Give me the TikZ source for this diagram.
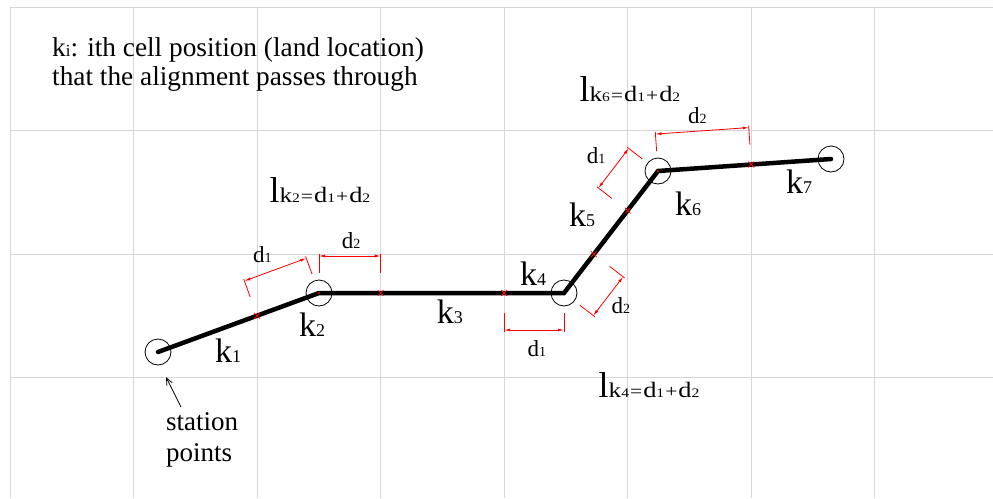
\documentclass[tikz,border=0pt]{standalone}
\usepackage{fontspec}
\setmainfont{Liberation Serif}
\newfontfamily\widefont[FakeStretch=1.2]{Liberation Serif}
\usetikzlibrary{calc,arrows.meta,shapes.misc}

\newcommand\fsz[1]{\fontsize{#1}{#1}\selectfont}
\newcommand\klab[1]{{\fsz{34}k}{\fsz{18}#1}}
\newcommand\dlab[1]{{\fsz{23}d}{\fsz{14}#1}}
\newcommand\lklab[1]{{\fsz{36}l}{\widefont{\fsz{21}k}{\fsz{13}#1}\kern1pt{\fsz{18}=}\kern1pt{\fsz{22}d}{\fsz{13}1}\kern1pt{\fsz{18}+}\kern1pt{\fsz{22}d}{\fsz{13}2}}}

\tikzset{
  gridline/.style={line width=1pt, draw={rgb,255:red,214;green,214;blue,214}},
  station/.style={circle, draw=black, line width=0.8pt, minimum size=26pt, inner sep=0pt},
  xmark/.style={cross out, draw=red, line width=0.8pt, minimum size=5pt, inner sep=0pt},
  dimred/.style={draw=red, line width=0.8pt},
  dimarrow/.style={dimred, {Latex[length=6pt,width=3pt]}-{Latex[length=6pt,width=3pt]}},
  txt/.style={inner sep=0pt, anchor=base west},
  alignline/.style={line width=4.5pt, draw=black, line cap=round}
}

\newcommand\dimpair[4]{%
  \draw[dimred] ($(#1)+20*(#3,#4)$) -- ($(#1)+39*(#3,#4)$);
  \draw[dimred] ($(#2)+20*(#3,#4)$) -- ($(#2)+39*(#3,#4)$);
  \draw[dimarrow] ($(#1)+37*(#3,#4)$) -- ($(#2)+37*(#3,#4)$);
}

\begin{document}
\begin{tikzpicture}[x=1pt, y=-1pt]
\fill[white] (0,0) rectangle (993,498);
\useasboundingbox (0,0) rectangle (993,498);

% grid
\foreach \gx in {10,133.55,257.1,380.65,504.2,627.75,751.3,874.85}
  \draw[gridline] (\gx,7) -- (\gx,498);
\foreach \gy in {7,130.6,254.2,377.8}
  \draw[gridline] (10,\gy) -- (993,\gy);

% vertices
\node[station] (k1) at (158,352) {};
\node[station] (k2) at (319,293) {};
\node[station] (k4) at (564,293) {};
\node[station] (k6) at (658,171) {};
\node[station] (k7) at (831,159) {};

% alignment
\draw[alignline] (k1.center) -- (k2.center) -- (k4.center) -- (k6.center) -- (k7.center);

% crossing marks
\node[xmark] (c12) at (257.1,315.7) {};
\node[xmark] (c23) at (380.65,293) {};
\node[xmark] (c34) at (504.2,293) {};
\node[xmark] (c45) at (593.8,254.2) {};
\node[xmark] (c56) at (627.75,210.6) {};
\node[xmark] (c67) at (751.3,164.5) {};
\fill[red] (k2.center) circle (1.2);
\fill[red] (k6.center) circle (1.2);

% dimensions
\dimpair{c12}{k2.center}{-0.3441}{-0.9389}
\dimpair{k2.center}{c23}{0}{-1}
\dimpair{c34}{k4.center}{0}{1}
\dimpair{k4.center}{c45}{0.7922}{0.6104}
\dimpair{c56}{k6.center}{-0.7922}{-0.6104}
\dimpair{k6.center}{c67}{-0.0692}{-0.9976}

% dimension labels
\node[txt] (d1a) at (253,262) {\dlab{1}};
\node[txt] (d2a) at (341.7,248) {\dlab{2}};
\node[txt] (d1b) at (527.5,356.5) {\dlab{1}};
\node[txt] (d2b) at (611.5,313) {\dlab{2}};
\node[txt] (d1c) at (586.7,163.5) {\dlab{1}};
\node[txt] (d2c) at (688,123.5) {\dlab{2}};

% lk labels
\node[txt] (lk2) at (269.3,202) {\lklab{2}};
\node[txt] (lk4) at (598.5,397) {\lklab{4}};
\node[txt] (lk6) at (579.3,101) {\lklab{6}};

% k labels
\node[txt] (k1lab) at (215,362.7) {\klab{1}};
\node[txt] (k2lab) at (299,336.7) {\klab{2}};
\node[txt] (k3lab) at (436.7,323.3) {\klab{3}};
\node[txt] (k4lab) at (520,285) {\klab{4}};
\node[txt] (k5lab) at (569,226) {\klab{5}};
\node[txt] (k6lab) at (675,215) {\klab{6}};
\node[txt] (k7lab) at (786,193.3) {\klab{7}};

% title
\node[txt] (title1) at (52,56) {\fsz{27.3}k{\fsz{17}i}: ith cell position (land location)};
\node[txt] (title2) at (52,85) {\fsz{27.3}that the alignment passes through};

% station points
\node[txt] (st1) at (166,430) {\fsz{27}station};
\node[txt] (st2) at (166,461) {\fsz{27}points};
\coordinate (arrtail) at (181,407);
\coordinate (arrtip) at (166,377);
\draw[line width=0.8pt, -{Straight Barb[length=7pt,width=6pt]}] (arrtail) -- (arrtip);
\end{tikzpicture}
\end{document}
